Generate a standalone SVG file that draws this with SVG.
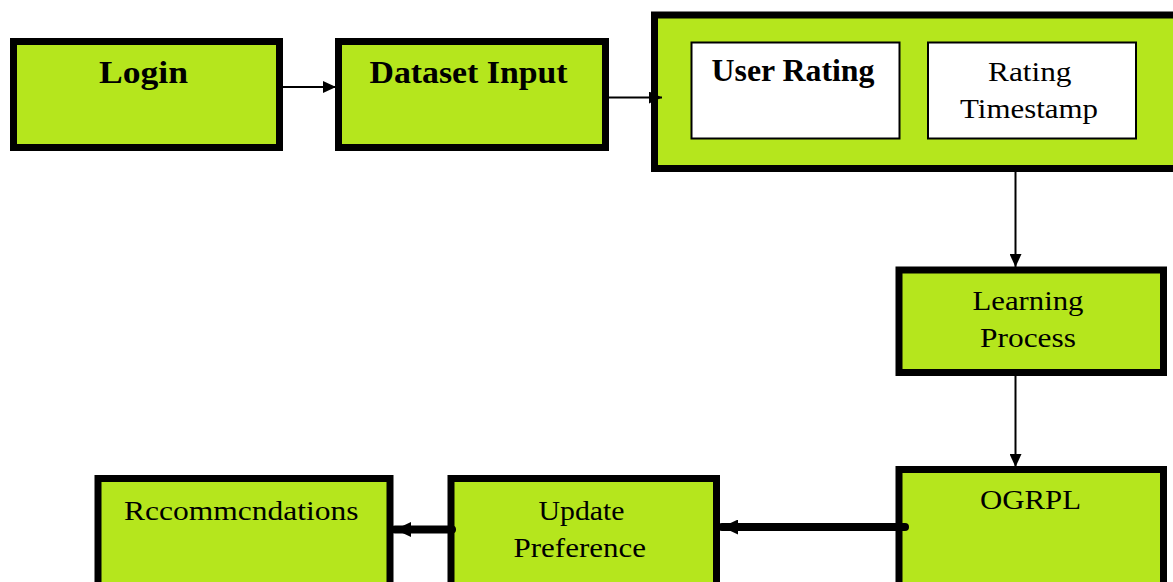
<svg xmlns="http://www.w3.org/2000/svg" width="1173" height="582" viewBox="0 0 1173 582">
  <style>
    .box { fill: #b5e61d; stroke: #000; stroke-width: 7; }
    .sub { fill: #fff; stroke: #000; stroke-width: 2; }
    .lbl { font-family: "Liberation Serif", "Times New Roman", serif; fill: #000; }
    .b { font-weight: bold; font-size: 31px; }
    .r { font-size: 28px; }
    .thin { stroke: #000; stroke-width: 2; fill: none; }
    .thick { stroke: #000; stroke-width: 8; fill: none; stroke-linecap: round; }
  </style>
  <defs>
    <marker id="head" markerUnits="userSpaceOnUse" markerWidth="14" markerHeight="12" refX="13" refY="6" orient="auto">
      <path d="M0,0 L13,6 L0,12 z" fill="#000"/>
    </marker>
    <marker id="headBig" markerUnits="userSpaceOnUse" markerWidth="17" markerHeight="15" refX="16" refY="7.5" orient="auto">
      <path d="M0,0 L16,7.5 L0,15 z" fill="#000"/>
    </marker>
  </defs>

  <g id="login">
    <rect class="box" x="13.5" y="41.5" width="266" height="106"/>
    <text class="lbl b" x="99" y="83" textLength="89" lengthAdjust="spacingAndGlyphs">Login</text>
  </g>

  <g id="dataset-input">
    <rect class="box" x="338.5" y="41.5" width="267" height="106"/>
    <text class="lbl b" x="369.5" y="83" textLength="198" lengthAdjust="spacingAndGlyphs">Dataset Input</text>
  </g>

  <g id="rating-data">
    <rect class="box" x="654.5" y="15" width="530" height="153.5"/>
    <g id="user-rating">
      <rect class="sub" x="691.5" y="42.5" width="208" height="96"/>
      <text class="lbl b" x="711.5" y="81" textLength="163" lengthAdjust="spacingAndGlyphs">User Rating</text>
    </g>
    <g id="rating-timestamp">
      <rect class="sub" x="928" y="42.5" width="208" height="96"/>
      <text class="lbl r" x="988" y="81" textLength="83.5" lengthAdjust="spacingAndGlyphs">Rating</text>
      <text class="lbl r" x="960" y="118" textLength="138" lengthAdjust="spacingAndGlyphs">Timestamp</text>
    </g>
  </g>

  <g id="learning-process">
    <rect class="box" x="899" y="270" width="264.5" height="102.5"/>
    <text class="lbl r" x="972.5" y="310" textLength="111" lengthAdjust="spacingAndGlyphs">Learning</text>
    <text class="lbl r" x="980" y="347" textLength="96" lengthAdjust="spacingAndGlyphs">Process</text>
  </g>

  <g id="ogrpl">
    <rect class="box" x="899" y="469.5" width="264.5" height="130"/>
    <text class="lbl r" x="980" y="509" textLength="101" lengthAdjust="spacingAndGlyphs">OGRPL</text>
  </g>

  <g id="update-preference">
    <rect class="box" x="451" y="478.5" width="265.5" height="130"/>
    <text class="lbl r" x="538.5" y="520" textLength="86" lengthAdjust="spacingAndGlyphs">Update</text>
    <text class="lbl r" x="513.5" y="557" textLength="132.5" lengthAdjust="spacingAndGlyphs">Preference</text>
  </g>

  <g id="recommendations">
    <rect class="box" x="98" y="478.5" width="292" height="130"/>
    <text class="lbl r" x="124" y="520" textLength="234.5" lengthAdjust="spacingAndGlyphs">Rccommcndations</text>
  </g>

  <!-- connectors drawn last so tails and heads sit over the box borders -->
  <g id="connectors">
    <line class="thin" x1="283" y1="87" x2="336" y2="87" marker-end="url(#head)"/>
    <line class="thin" x1="609" y1="97.5" x2="662" y2="97.5" marker-end="url(#head)"/>
    <line class="thin" x1="1015.5" y1="172" x2="1015.5" y2="267" marker-end="url(#head)"/>
    <line class="thin" x1="1015.5" y1="376" x2="1015.5" y2="467" marker-end="url(#head)"/>
    <line class="thick" x1="905" y1="527" x2="722" y2="527" marker-end="url(#headBig)"/>
    <line class="thick" x1="452" y1="529.5" x2="395" y2="529.5" marker-end="url(#headBig)"/>
  </g>
</svg>
